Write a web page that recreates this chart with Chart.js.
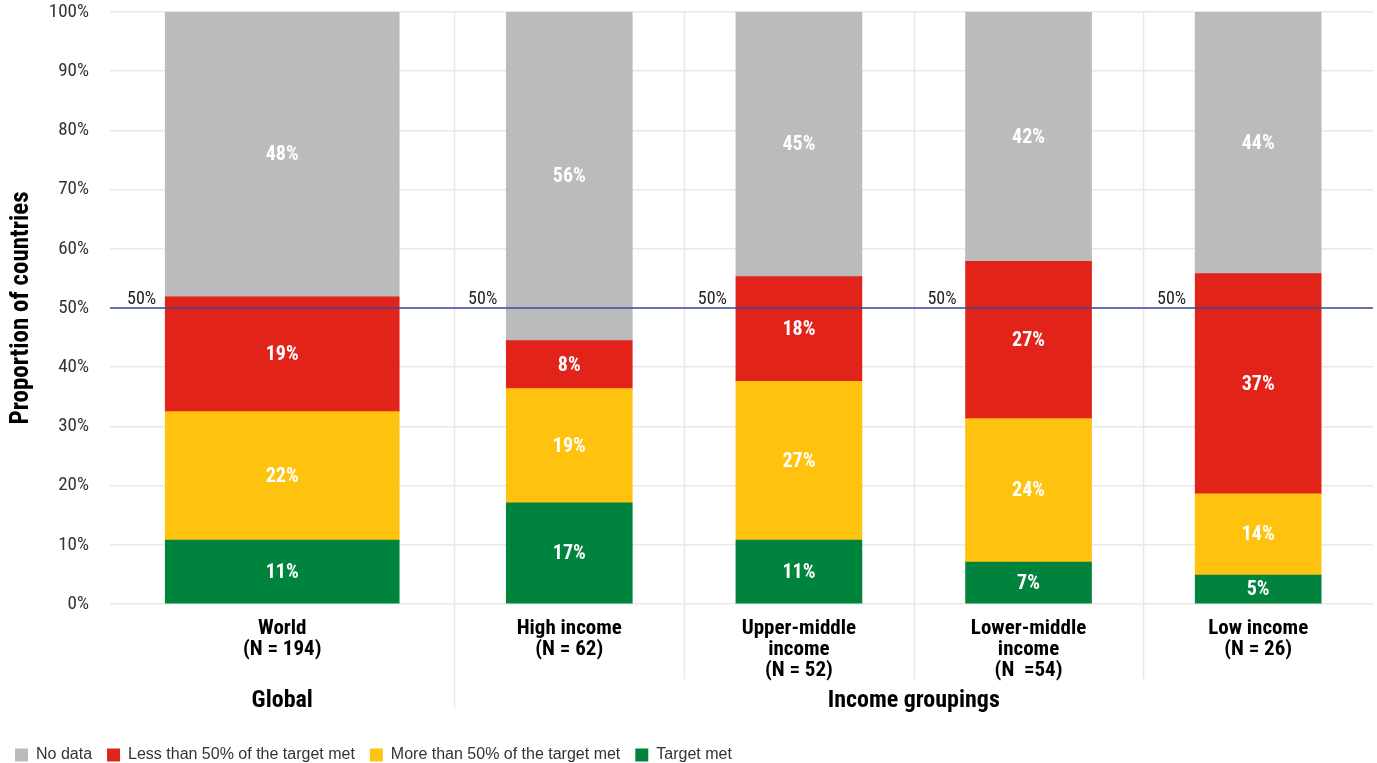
<!DOCTYPE html>
<html>
<head>
<meta charset="utf-8">
<script src="https://cdn.jsdelivr.net/npm/chart.js@4.4.0/dist/chart.umd.min.js"></script>
<style>
  html, body { margin: 0; padding: 0; background: #fff; }
  #wrap { width: 1377px; height: 763px; position: relative; }
</style>
</head>
<body>
<div id="wrap"><canvas id="chart"></canvas></div>
<script>
// categories (multi-line labels) and the group each one belongs to
const categories = [
  ["World", "(N = 194)"],
  ["High income", "(N = 62)"],
  ["Upper-middle", "income", "(N = 52)"],
  ["Lower-middle", "income", "(N  =54)"],
  ["Low income", "(N = 26)"]
];
const groupNames = ["Global", "Income groupings"];

const seriesNames = ["Target met", "More than 50% of the target met", "Less than 50% of the target met", "No data"];
const targetMet    = [10.8, 17.1, 10.8, 7.1, 4.9];
const moreThanHalf = [21.7, 19.3, 26.8, 24.2, 13.7];
const lessThanHalf = [19.4, 8.1, 17.7, 26.6, 37.2];
const noData       = [48.1, 55.5, 44.7, 42.1, 44.2];
const referenceValue = 50;
const yTickValues = [0, 10, 20, 30, 40, 50, 60, 70, 80, 90, 100];

// ---- styling / layout ----
const colors = ["#00843d", "#ffc20e", "#e2231a", "#bbbbbb"];
const seriesValues = [targetMet, moreThanHalf, lessThanHalf, noData];
const COND = "'Liberation Sans Narrow', 'Roboto Condensed', Roboto, sans-serif";
const gridColor = "#ebe8e4";

// the global group is 1.5 slots wide, each income group 1 slot
const slotOf = (i) => (i === 0 ? 0.75 : i + 1);
const separators = [1.5, 2.5, 3.5, 4.5];

const datasets = [];
seriesValues.forEach((vals, s) => {
  [[0], [1, 2, 3, 4]].forEach((idx, part) => {
    datasets.push({
      label: seriesNames[s],
      part: part,
      stack: "s",
      backgroundColor: colors[s],
      borderWidth: 0,
      barThickness: part === 0 ? 234 : 126,
      data: idx.map(i => ({ x: slotOf(i), y: vals[i] }))
    });
  });
});

const decor = {
  id: "decor",
  beforeDatasetsDraw(chart) {
    const { ctx, chartArea: a, scales: { x } } = chart;
    ctx.save();
    ctx.strokeStyle = gridColor;
    ctx.lineWidth = 1.5;
    separators.forEach((v, k) => {
      const px = Math.round(x.getPixelForValue(v)) + 0.5;
      ctx.beginPath();
      ctx.moveTo(px, a.top);
      ctx.lineTo(px, a.bottom + (k === 0 ? 104 : 75));
      ctx.stroke();
    });
    ctx.restore();
  },
  afterDatasetsDraw(chart) {
    const { ctx, chartArea: a, scales: { x, y } } = chart;
    ctx.save();
    // value labels
    ctx.fillStyle = "#fff";
    ctx.font = "bold 20px " + COND;
    ctx.textAlign = "center";
    ctx.textBaseline = "middle";
    chart.data.datasets.forEach((ds, d) => {
      const meta = chart.getDatasetMeta(d);
      meta.data.forEach((el, j) => {
        const v = ds.data[j].y;
        ctx.fillText(Math.round(v) + "%", el.x, (el.y + el.base) / 2 + 1);
      });
    });
    // 50% reference line
    const ry = y.getPixelForValue(referenceValue);
    ctx.strokeStyle = "#3c4a99";
    ctx.lineWidth = 1.3;
    ctx.beginPath();
    ctx.moveTo(a.left, ry);
    ctx.lineTo(a.right, ry);
    ctx.stroke();
    ctx.fillStyle = "#222";
    ctx.font = "18px " + COND;
    ctx.textAlign = "right";
    ctx.textBaseline = "alphabetic";
    [0, 1].forEach(d => {
      chart.getDatasetMeta(d).data.forEach(el => {
        ctx.fillText(referenceValue + "%", el.x - el.width / 2 - 9, ry - 4);
      });
    });
    // category labels
    ctx.fillStyle = "#000";
    ctx.textAlign = "center";
    ctx.textBaseline = "middle";
    ctx.font = "bold 21px " + COND;
    categories.forEach((lines, i) => {
      const cx = x.getPixelForValue(slotOf(i));
      lines.forEach((t, l) => ctx.fillText(t, cx, a.bottom + 25 + l * 21));
    });
    // group labels
    ctx.font = "bold 24px " + COND;
    groupNames.forEach((g, gi) => {
      const lo = gi === 0 ? x.min : separators[0];
      const hi = gi === 0 ? separators[0] : x.max;
      ctx.fillText(g, x.getPixelForValue((lo + hi) / 2), a.bottom + 97);
    });
    ctx.restore();
  }
};

const noPad = (s) => { s.paddingTop = 0; s.paddingBottom = 0; s.paddingLeft = 0; s.paddingRight = 0; };

new Chart(document.getElementById("chart"), {
  type: "bar",
  data: { datasets },
  plugins: [decor],
  options: {
    responsive: true,
    maintainAspectRatio: false,
    animation: false,
    layout: { padding: { top: 12, right: 4, left: 0, bottom: -10 } },
    plugins: {
      tooltip: { enabled: false },
      legend: {
        position: "bottom",
        align: "start",
        reverse: true,
        labels: {
          filter: (item, data) => data.datasets[item.datasetIndex].part === 1,
          boxWidth: 13,
          boxHeight: 13,
          padding: 15,
          color: "#333",
          font: { family: "'Liberation Sans', Arial, sans-serif", size: 16 }
        }
      }
    },
    scales: {
      x: {
        type: "linear",
        stacked: true,
        offset: false,
        min: 0,
        max: 5.5,
        grid: { display: false },
        border: { display: false },
        ticks: { display: false },
        afterFit: (s) => { s.height = 128; noPad(s); }
      },
      y: {
        stacked: true,
        min: 0,
        max: 100,
        afterBuildTicks: (s) => { s.ticks = yTickValues.map(v => ({ value: v })); },
        grid: { color: gridColor, lineWidth: 1.5, drawTicks: false },
        border: { display: false },
        ticks: {
          padding: 21,
          color: "#333",
          font: { family: COND, size: 19 },
          callback: (v) => v + "%"
        },
        title: {
          display: true,
          text: "Proportion of countries",
          color: "#000",
          font: { family: COND, size: 25, weight: "bold" },
          padding: { top: 7, bottom: 0 }
        },
        afterFit: (s) => { s.width = 110; noPad(s); }
      }
    }
  }
});
</script>
</body>
</html>
